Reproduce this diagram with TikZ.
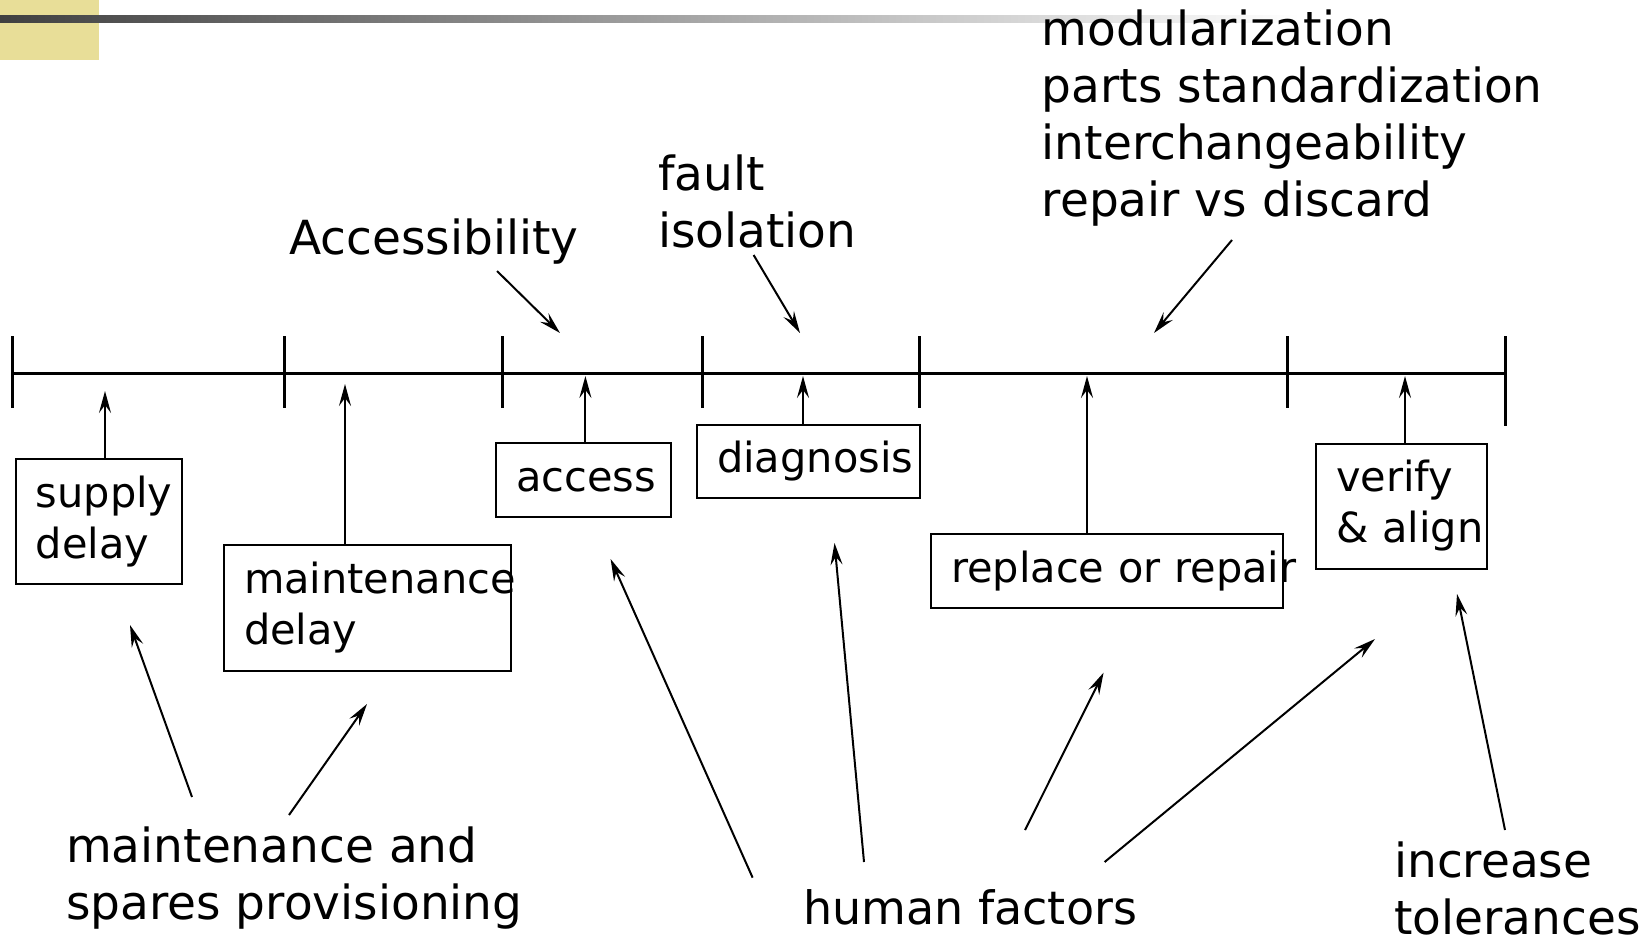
\documentclass[tikz,border=0pt]{standalone}
\usepackage{fontspec}
\setmainfont{DejaVu Sans}
\usetikzlibrary{arrows.meta}
\definecolor{barYellow}{HTML}{E8DE98}
\definecolor{barDark}{HTML}{404040}
\begin{document}
\begin{tikzpicture}[x=1pt,y=-1pt,
  lbl/.style={anchor=base west, inner sep=0pt, align=left, font=\fontsize{47}{57}\selectfont},
  box/.style={draw, line width=2pt, inner xsep=20pt, inner ysep=0pt, align=left, font=\fontsize{41.5}{51}\selectfont},
  arr/.style={line width=2pt, -{Stealth[length=22pt,width=12pt,inset=8pt]}},
  tline/.style={line width=3pt},
]
\useasboundingbox (0,0) rectangle (1648,938);
% header decoration
\fill[barYellow] (0,0) rectangle (99,60);
\shade[left color=barDark, right color=white] (0,15) rectangle (1300,22);

% timeline
\coordinate (t0) at (12.6,373);
\coordinate (t6) at (1505,373);
\draw[tline] (t0) -- (t6);
\foreach \x in {12.6,284.8,502.4,702.1,919.6,1287.5}
  \draw[tline] (\x,336) -- (\x,408);
\draw[tline] (1505,336) -- (1505,426);

% boxes
\node[box, minimum width=166pt, minimum height=125pt, text width=126pt] (supply) at (98.8,521.5) {\mbox{supply}\\\mbox{delay}};
\node[box, minimum width=287pt, minimum height=125.6pt, text width=247pt] (maint) at (367.5,607.8) {\mbox{maintenance}\\\mbox{delay}};
\node[box, minimum width=174.5pt, minimum height=74.5pt, text width=134.5pt] (access) at (583.25,479.75) {\mbox{access}};
\node[box, minimum width=222.6pt, minimum height=73.4pt, text width=182.6pt] (diag) at (808.3,461.3) {\mbox{diagnosis}};
\node[box, minimum width=352pt, minimum height=73.5pt, text width=312pt] (repl) at (1107,570.75) {\mbox{replace or repair}};
\node[box, minimum width=171pt, minimum height=125pt, text width=131pt] (verify) at (1401.5,506) {\mbox{verify}\\\mbox{\& align}};

% arrow tips on the timeline
\coordinate (s1) at (105,391);
\coordinate (s2) at (345,384);
\coordinate (s3) at (585.4,376);
\coordinate (s4) at (803,376);
\coordinate (s5) at (1087,376);
\coordinate (s6) at (1405,376);
\draw[arr] (supply.north -| s1) -- (s1);
\draw[arr] (maint.north -| s2) -- (s2);
\draw[arr] (access.north -| s3) -- (s3);
\draw[arr] (diag.north -| s4) -- (s4);
\draw[arr] (repl.north -| s5) -- (s5);
\draw[arr] (verify.north -| s6) -- (s6);

% labels (base = baseline of the last line)
\node[lbl] (accl) at (289,254) {Accessibility};
\node[lbl] (fault) at (658,247) {fault\\isolation};
\node[lbl] (modu) at (1041.6,216.6) {modularization\\parts standardization\\interchangeability\\repair vs discard};
\node[lbl] (spares) at (66,919.6) {maintenance and\\spares provisioning};
\node[lbl, font=\fontsize{46}{57}\selectfont] (human) at (803,924) {human factors};
\node[lbl] (toler) at (1394,934) {increase\\tolerances};

% top arrows
\coordinate (a1s) at (497,271); \coordinate (a1e) at (560,333);
\coordinate (a2s) at (753.6,255); \coordinate (a2e) at (800,333);
\coordinate (a3s) at (1232,240); \coordinate (a3e) at (1154,333);
\draw[arr] (a1s) -- (a1e);
\draw[arr] (a2s) -- (a2e);
\draw[arr] (a3s) -- (a3e);

% bottom arrows
\coordinate (b1s) at (192,797); \coordinate (b1e) at (130,625);
\coordinate (b2s) at (289,815); \coordinate (b2e) at (367,704);
\coordinate (h1s) at (752.6,877.6); \coordinate (h1e) at (610.6,559);
\coordinate (h2s) at (864,862); \coordinate (h2e) at (834.5,543);
\coordinate (h3s) at (1025,830); \coordinate (h3e) at (1103.6,672.6);
\coordinate (h4s) at (1104.6,862); \coordinate (h4e) at (1375,639);
\coordinate (i1s) at (1505,830); \coordinate (i1e) at (1457,594);
\draw[arr] (b1s) -- (b1e);
\draw[arr] (b2s) -- (b2e);
\draw[arr] (h1s) -- (h1e);
\draw[arr] (h2s) -- (h2e);
\draw[arr] (h3s) -- (h3e);
\draw[arr] (h4s) -- (h4e);
\draw[arr] (i1s) -- (i1e);
\end{tikzpicture}
\end{document}
